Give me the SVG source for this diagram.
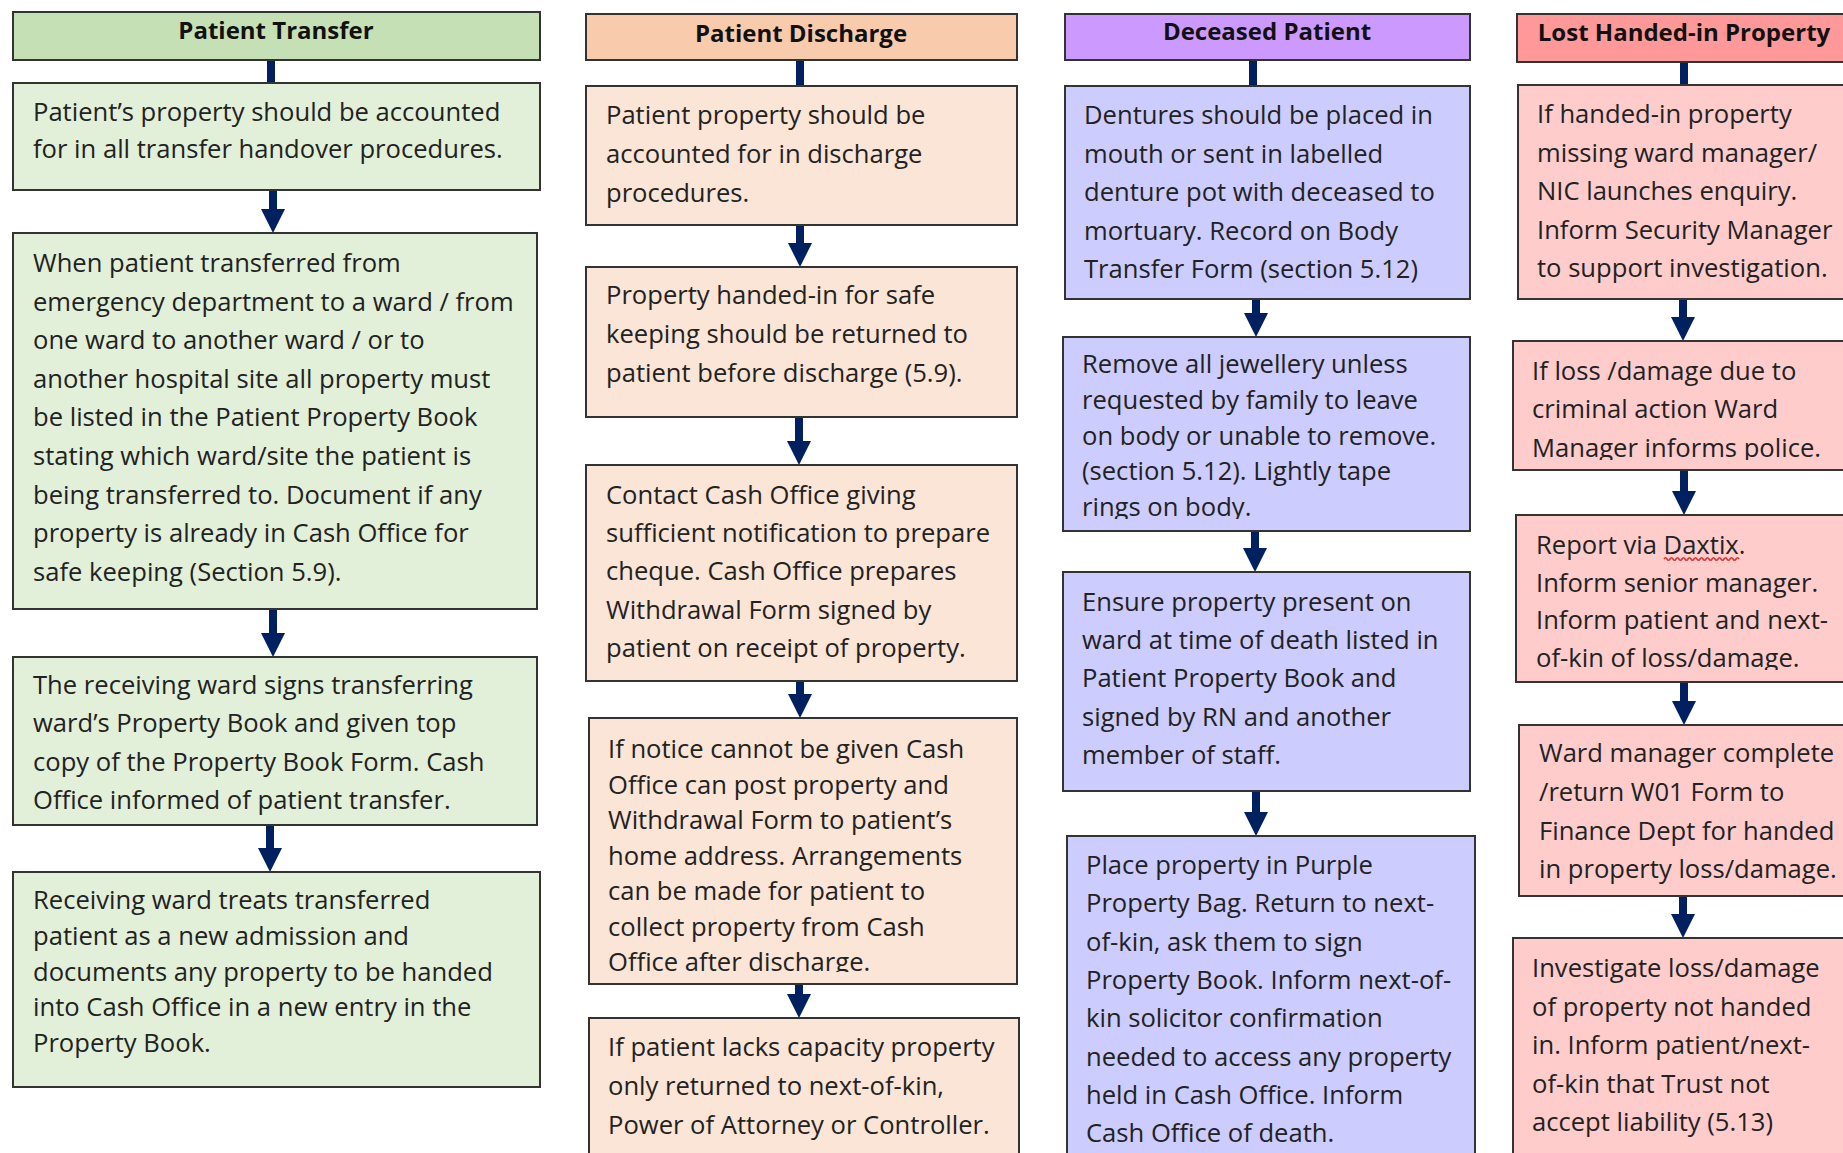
<svg xmlns="http://www.w3.org/2000/svg" width="1843" height="1153" viewBox="0 0 1843 1153">
  <style>
    .hdr rect { stroke: #333333; stroke-width: 2; }
    .hdr text { font-family: "Open Sans", "Liberation Sans", sans-serif; font-weight: bold; font-size: 24px; fill: #111111; text-anchor: middle; }
    .box rect { stroke: #333333; stroke-width: 2; }
    .box text { font-family: "Open Sans", "Liberation Sans", sans-serif; font-size: 25.6px; fill: #222222; }
    .green-h { fill: #C5E0B4; } .green { fill: #E2F0D9; }
    .peach-h { fill: #F8CBAD; } .peach { fill: #FBE5D6; }
    .violet-h { fill: #CC99FF; } .violet { fill: #CCCCFF; }
    .rose-h { fill: #FF9999; } .rose { fill: #FFCCCC; }
    .link { stroke: #002060; stroke-width: 8; fill: none; }
    .flow { stroke: #002060; stroke-width: 8; fill: none; marker-end: url(#head); }
  </style>
  <defs>
    <marker id="head" markerUnits="userSpaceOnUse" viewBox="0 -12 24 24" refX="0" refY="0" markerWidth="24" markerHeight="24" orient="auto">
      <path d="M0,-12 L24,0 L0,12 z" fill="#002060"/>
    </marker>
    <!-- text areas: lines that run past the inner margin are cut off -->
    <clipPath id="c1b1"><rect x="13" y="83" width="527" height="107"/></clipPath>
    <clipPath id="c1b2"><rect x="13" y="233" width="524" height="376"/></clipPath>
    <clipPath id="c1b3"><rect x="13" y="657" width="524" height="168"/></clipPath>
    <clipPath id="c1b4"><rect x="13" y="872" width="527" height="215"/></clipPath>
    <clipPath id="c2b1"><rect x="586" y="86" width="431" height="139"/></clipPath>
    <clipPath id="c2b2"><rect x="586" y="267" width="431" height="150"/></clipPath>
    <clipPath id="c2b3"><rect x="586" y="465" width="431" height="216"/></clipPath>
    <clipPath id="c2b4"><rect x="589" y="718" width="428" height="254"/></clipPath>
    <clipPath id="c2b5"><rect x="589" y="1018" width="430" height="140"/></clipPath>
    <clipPath id="c3b1"><rect x="1065" y="86" width="405" height="213"/></clipPath>
    <clipPath id="c3b2"><rect x="1063" y="337" width="407" height="182"/></clipPath>
    <clipPath id="c3b3"><rect x="1063" y="572" width="407" height="219"/></clipPath>
    <clipPath id="c3b4"><rect x="1067" y="836" width="408" height="330"/></clipPath>
    <clipPath id="c4b1"><rect x="1518" y="85" width="330" height="214"/></clipPath>
    <clipPath id="c4b2"><rect x="1513" y="341" width="335" height="119"/></clipPath>
    <clipPath id="c4b3"><rect x="1516" y="515" width="332" height="155"/></clipPath>
    <clipPath id="c4b4"><rect x="1519" y="725" width="329" height="171"/></clipPath>
    <clipPath id="c4b5"><rect x="1513" y="938" width="335" height="220"/></clipPath>
  </defs>

  <rect width="1843" height="1153" fill="#FFFFFF"/>

  <!-- connectors: plain stems under the headers, arrows between steps -->
  <g id="connectors">
    <path class="link" d="M271,60 V84"/>
    <path class="flow" d="M273,190 V209"/>
    <path class="flow" d="M273,609 V633"/>
    <path class="flow" d="M270,825 V848"/>

    <path class="link" d="M800,60 V87"/>
    <path class="flow" d="M800,225 V243"/>
    <path class="flow" d="M799,417 V441"/>
    <path class="flow" d="M800,681 V694"/>
    <path class="flow" d="M799,977 V994"/>

    <path class="link" d="M1253,60 V87"/>
    <path class="flow" d="M1256,299 V313"/>
    <path class="flow" d="M1255,531 V548"/>
    <path class="flow" d="M1256,791 V812"/>

    <path class="link" d="M1684,62 V86"/>
    <path class="flow" d="M1683,299 V317"/>
    <path class="flow" d="M1684,470 V491"/>
    <path class="flow" d="M1684,682 V701"/>
    <path class="flow" d="M1683,896 V914"/>
  </g>

  <!-- Patient Transfer column -->
  <g id="transfer-head" class="hdr">
    <rect class="green-h" x="13" y="12" width="527" height="48"/>
    <text x="276" y="39">Patient Transfer</text>
  </g>
  <g id="transfer-1" class="box">
    <rect class="green" x="13" y="83" width="527" height="107"/>
    <text clip-path="url(#c1b1)"><tspan x="33" y="121">Patient’s property should be accounted</tspan><tspan x="33" y="158">for in all transfer handover procedures.</tspan></text>
  </g>
  <g id="transfer-2" class="box">
    <rect class="green" x="13" y="233" width="524" height="376"/>
    <text clip-path="url(#c1b2)"><tspan x="33" y="272">When patient transferred from</tspan><tspan x="33" y="310.6">emergency department to a ward / from</tspan><tspan x="33" y="349.2">one ward to another ward / or to</tspan><tspan x="33" y="387.8">another hospital site all property must</tspan><tspan x="33" y="426.4">be listed in the Patient Property Book</tspan><tspan x="33" y="465">stating which ward/site the patient is</tspan><tspan x="33" y="503.6">being transferred to. Document if any</tspan><tspan x="33" y="542.2">property is already in Cash Office for</tspan><tspan x="33" y="580.8">safe keeping (Section 5.9).</tspan></text>
  </g>
  <g id="transfer-3" class="box">
    <rect class="green" x="13" y="657" width="524" height="168"/>
    <text clip-path="url(#c1b3)"><tspan x="33" y="694">The receiving ward signs transferring</tspan><tspan x="33" y="732.4">ward’s Property Book and given top</tspan><tspan x="33" y="770.8">copy of the Property Book Form. Cash</tspan><tspan x="33" y="809.2">Office informed of patient transfer.</tspan></text>
  </g>
  <g id="transfer-4" class="box">
    <rect class="green" x="13" y="872" width="527" height="215"/>
    <text clip-path="url(#c1b4)"><tspan x="33" y="909">Receiving ward treats transferred</tspan><tspan x="33" y="944.8">patient as a new admission and</tspan><tspan x="33" y="980.6">documents any property to be handed</tspan><tspan x="33" y="1016.4">into Cash Office in a new entry in the</tspan><tspan x="33" y="1052.2">Property Book.</tspan></text>
  </g>

  <!-- Patient Discharge column -->
  <g id="discharge-head" class="hdr">
    <rect class="peach-h" x="586" y="14" width="431" height="46"/>
    <text x="801" y="42">Patient Discharge</text>
  </g>
  <g id="discharge-1" class="box">
    <rect class="peach" x="586" y="86" width="431" height="139"/>
    <text clip-path="url(#c2b1)"><tspan x="606" y="124">Patient property should be</tspan><tspan x="606" y="162.8">accounted for in discharge</tspan><tspan x="606" y="201.6">procedures.</tspan></text>
  </g>
  <g id="discharge-2" class="box">
    <rect class="peach" x="586" y="267" width="431" height="150"/>
    <text clip-path="url(#c2b2)"><tspan x="606" y="304">Property handed-in for safe</tspan><tspan x="606" y="342.8">keeping should be returned to</tspan><tspan x="606" y="381.6">patient before discharge (5.9).</tspan></text>
  </g>
  <g id="discharge-3" class="box">
    <rect class="peach" x="586" y="465" width="431" height="216"/>
    <text clip-path="url(#c2b3)"><tspan x="606" y="504">Contact Cash Office giving</tspan><tspan x="606" y="542.2">sufficient notification to prepare</tspan><tspan x="606" y="580.4">cheque. Cash Office prepares</tspan><tspan x="606" y="618.6">Withdrawal Form signed by</tspan><tspan x="606" y="656.8">patient on receipt of property.</tspan></text>
  </g>
  <g id="discharge-4" class="box">
    <rect class="peach" x="589" y="718" width="428" height="266"/>
    <text clip-path="url(#c2b4)"><tspan x="608" y="758">If notice cannot be given Cash</tspan><tspan x="608" y="793.5">Office can post property and</tspan><tspan x="608" y="829">Withdrawal Form to patient’s</tspan><tspan x="608" y="864.5">home address. Arrangements</tspan><tspan x="608" y="900">can be made for patient to</tspan><tspan x="608" y="935.5">collect property from Cash</tspan><tspan x="608" y="971">Office after discharge.</tspan></text>
  </g>
  <g id="discharge-5" class="box">
    <rect class="peach" x="589" y="1018" width="430" height="150"/>
    <text clip-path="url(#c2b5)"><tspan x="608" y="1056">If patient lacks capacity property</tspan><tspan x="608" y="1094.8">only returned to next-of-kin,</tspan><tspan x="608" y="1133.6">Power of Attorney or Controller.</tspan></text>
  </g>

  <!-- Deceased Patient column -->
  <g id="deceased-head" class="hdr">
    <rect class="violet-h" x="1065" y="14" width="405" height="46"/>
    <text x="1267" y="40">Deceased Patient</text>
  </g>
  <g id="deceased-1" class="box">
    <rect class="violet" x="1065" y="86" width="405" height="213"/>
    <text clip-path="url(#c3b1)"><tspan x="1084" y="124">Dentures should be placed in</tspan><tspan x="1084" y="162.5">mouth or sent in labelled</tspan><tspan x="1084" y="201">denture pot with deceased to</tspan><tspan x="1084" y="239.5">mortuary. Record on Body</tspan><tspan x="1084" y="278">Transfer Form (section 5.12)</tspan></text>
  </g>
  <g id="deceased-2" class="box">
    <rect class="violet" x="1063" y="337" width="407" height="194"/>
    <text clip-path="url(#c3b2)"><tspan x="1082" y="373">Remove all jewellery unless</tspan><tspan x="1082" y="408.8">requested by family to leave</tspan><tspan x="1082" y="444.6">on body or unable to remove.</tspan><tspan x="1082" y="480.4">(section 5.12). Lightly tape</tspan><tspan x="1082" y="516.2">rings on body.</tspan></text>
  </g>
  <g id="deceased-3" class="box">
    <rect class="violet" x="1063" y="572" width="407" height="219"/>
    <text clip-path="url(#c3b3)"><tspan x="1082" y="611">Ensure property present on</tspan><tspan x="1082" y="649.2">ward at time of death listed in</tspan><tspan x="1082" y="687.4">Patient Property Book and</tspan><tspan x="1082" y="725.6">signed by RN and another</tspan><tspan x="1082" y="763.8">member of staff.</tspan></text>
  </g>
  <g id="deceased-4" class="box">
    <rect class="violet" x="1067" y="836" width="408" height="330"/>
    <text clip-path="url(#c3b4)"><tspan x="1086" y="874">Place property in Purple</tspan><tspan x="1086" y="912.3">Property Bag. Return to next-</tspan><tspan x="1086" y="950.6">of-kin, ask them to sign</tspan><tspan x="1086" y="988.9">Property Book. Inform next-of-</tspan><tspan x="1086" y="1027.2">kin solicitor confirmation</tspan><tspan x="1086" y="1065.5">needed to access any property</tspan><tspan x="1086" y="1103.8">held in Cash Office. Inform</tspan><tspan x="1086" y="1142.1">Cash Office of death.</tspan></text>
  </g>

  <!-- Lost Handed-in Property column -->
  <g id="lost-head" class="hdr">
    <rect class="rose-h" x="1517" y="14" width="340" height="48"/>
    <text x="1684" y="41">Lost Handed-in Property</text>
  </g>
  <g id="lost-1" class="box">
    <rect class="rose" x="1518" y="85" width="340" height="214"/>
    <text clip-path="url(#c4b1)"><tspan x="1537" y="123">If handed-in property</tspan><tspan x="1537" y="161.5">missing ward manager/</tspan><tspan x="1537" y="200">NIC launches enquiry.</tspan><tspan x="1537" y="238.5">Inform Security Manager</tspan><tspan x="1537" y="277">to support investigation.</tspan></text>
  </g>
  <g id="lost-2" class="box">
    <rect class="rose" x="1513" y="341" width="345" height="129"/>
    <text clip-path="url(#c4b2)"><tspan x="1532" y="380">If loss /damage due to</tspan><tspan x="1532" y="418.2">criminal action Ward</tspan><tspan x="1532" y="457">Manager informs police.</tspan></text>
  </g>
  <g id="lost-3" class="box">
    <rect class="rose" x="1516" y="515" width="342" height="167"/>
    <text clip-path="url(#c4b3)"><tspan x="1536" y="554">Report via Daxtix.</tspan><tspan x="1536" y="591.6">Inform senior manager.</tspan><tspan x="1536" y="629.2">Inform patient and next-</tspan><tspan x="1536" y="667">of-kin of loss/damage.</tspan></text>
    <!-- spell-check squiggle under "Daxtix" -->
    <path d="M1664,559 q1.5,-2.5 3,0 t3,0 t3,0 t3,0 t3,0 t3,0 t3,0 t3,0 t3,0 t3,0 t3,0 t3,0 t3,0 t3,0 t3,0 t3,0 t3,0 t3,0 t3,0 t3,0 t3,0 t3,0 t3,0 t3,0 t3,0" fill="none" stroke="#E03030" stroke-width="1.5"/>
  </g>
  <g id="lost-4" class="box">
    <rect class="rose" x="1519" y="725" width="339" height="171"/>
    <text clip-path="url(#c4b4)"><tspan x="1539" y="762">Ward manager complete</tspan><tspan x="1539" y="800.8">/return W01 Form to</tspan><tspan x="1539" y="839.6">Finance Dept for handed</tspan><tspan x="1539" y="878.4">in property loss/damage.</tspan></text>
  </g>
  <g id="lost-5" class="box">
    <rect class="rose" x="1513" y="938" width="345" height="230"/>
    <text clip-path="url(#c4b5)"><tspan x="1532" y="977">Investigate loss/damage</tspan><tspan x="1532" y="1015.5">of property not handed</tspan><tspan x="1532" y="1054">in. Inform patient/next-</tspan><tspan x="1532" y="1092.5">of-kin that Trust not</tspan><tspan x="1532" y="1131">accept liability (5.13)</tspan></text>
  </g>
</svg>
